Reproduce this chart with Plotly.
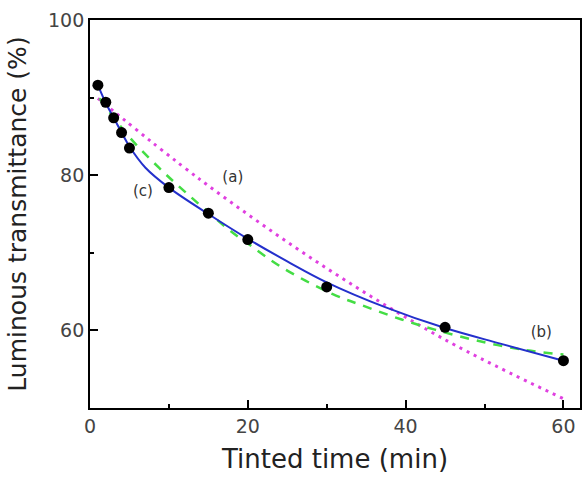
import plotly.graph_objects as go

# measured data points
t_data = [1, 2, 3, 4, 5, 10, 15, 20, 30, 45, 60]
T_data = [91.6, 89.4, 87.4, 85.5, 83.5, 78.4, 75.1, 71.7, 65.6, 60.4, 56.1]

# curve (a) magenta dotted
t_a = [1, 14, 30, 45, 60]
T_a = [89.9, 79.4, 68.0, 58.8, 51.2]

# curve (b) green dashed
t_b = [1.2, 5.0, 8.8, 10.9, 17.7, 20.0, 24.2, 30.7, 35.1, 39.5, 43.7, 49.0, 54.9, 60]
T_b = [89.9, 84.9, 80.9, 78.9, 72.9, 71.2, 68.2, 64.7, 63.0, 61.4, 60.1, 58.7, 57.5, 56.9]

# curve (c) blue solid
t_c = [1, 2, 3, 4, 5, 7, 10, 15, 20, 25, 30, 37.4, 45, 52, 60]
T_c = [91.6, 89.3, 87.4, 85.5, 83.7, 81.0, 78.4, 75.0, 71.8, 68.9, 66.2, 63.0, 60.3, 58.3, 56.1]

labels = ["(a)", "(b)", "(c)"]
label_x = [18.1, 57.2, 6.7]
label_y = [79.6, 59.6, 77.85]

FONT = "DejaVu Sans, Arial"

fig = go.Figure()
fig.add_trace(go.Scatter(x=t_a, y=T_a, mode="lines",
                         line=dict(color="#e040e0", width=3, dash="3px,5px", shape="spline"), showlegend=False))
fig.add_trace(go.Scatter(x=t_b, y=T_b, mode="lines",
                         line=dict(color="#44dd44", width=2.5, dash="9px,8px", shape="spline"), showlegend=False))
fig.add_trace(go.Scatter(x=t_c, y=T_c, mode="lines",
                         line=dict(color="#2430cc", width=2, shape="spline"), showlegend=False))
fig.add_trace(go.Scatter(x=t_data, y=T_data, mode="markers",
                         marker=dict(color="black", size=11), showlegend=False))
fig.add_trace(go.Scatter(x=label_x, y=label_y, mode="text", text=labels,
                         textfont=dict(family=FONT, size=15, color="#333"), showlegend=False))

axis_common = dict(showgrid=False, zeroline=False, showline=True, linecolor="black", linewidth=1.8,
                   mirror=True, ticks="inside", ticklen=8, tickwidth=1.8, tickcolor="black",
                   tickfont=dict(family=FONT, size=19, color="#444"))
fig.update_xaxes(range=[0, 62.1], tickvals=[0, 20, 40, 60], **axis_common,
                 minor=dict(tickvals=[10, 30, 50], ticks="inside", ticklen=4, tickwidth=1.8, tickcolor="black"),
                 title=dict(text="Tinted time (min)", font=dict(family=FONT, size=26, color="#222"), standoff=14))
fig.update_yaxes(range=[50, 100], tickvals=[60, 80, 100], **axis_common,
                 minor=dict(tickvals=[70, 90], ticks="inside", ticklen=4, tickwidth=1.8, tickcolor="black"),
                 title=dict(text="Luminous transmittance (%)", font=dict(family=FONT, size=25, color="#222"), standoff=14))
fig.update_layout(width=585, height=478, margin=dict(l=90, r=3, t=20, b=70),
                  plot_bgcolor="white", paper_bgcolor="white")
fig.write_html("out.html")
